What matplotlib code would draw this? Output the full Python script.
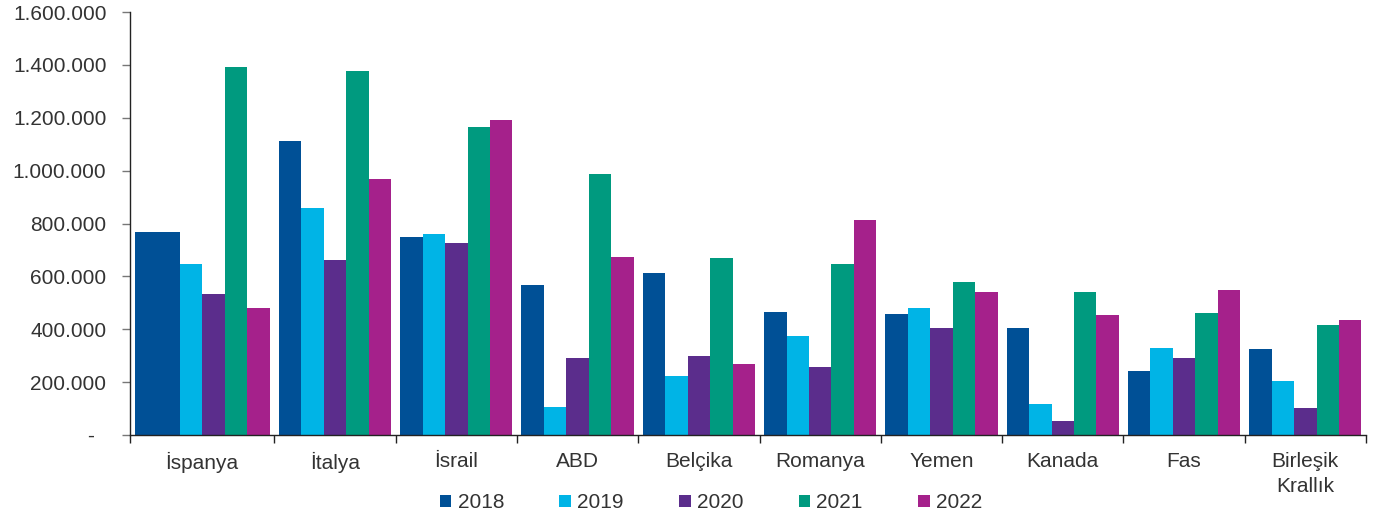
import numpy as np
import matplotlib.pyplot as plt
from matplotlib.patches import Patch

countries = ["İspanya", "İtalya", "İsrail", "ABD", "Belçika", "Romanya",
             "Yemen", "Kanada", "Fas", "Birleşik\nKrallık"]
years = ["2018", "2019", "2020", "2021", "2022"]

v2018 = [768000, 1112000, 749000, 567000, 613000, 465000, 458000, 405000, 242000, 325000]
v2019 = [647000, 859000, 760000, 106000, 223000, 374000, 480000, 117000, 329000, 204000]
v2020 = [533000, 662000, 726000, 291000, 299000, 257000, 405000, 53000, 291000, 102000]
v2021 = [1392000, 1377000, 1165000, 987000, 669000, 647000, 579000, 541000, 461000, 416000]
v2022 = [480000, 968000, 1191000, 673000, 269000, 813000, 541000, 454000, 548000, 435000]
series = [v2018, v2019, v2020, v2021, v2022]

colors = ["#005096", "#00b4e6", "#5b2d8c", "#009a7f", "#a5218b"]

plt.rcParams["font.family"] = ["Liberation Sans", "DejaVu Sans"]
text_color = "#333333"

fig = plt.figure(figsize=(13.79, 5.13), dpi=100)
ax = fig.add_axes([130 / 1379, 78 / 513, 1236 / 1379, 423 / 513])

x = np.arange(len(countries))
w = 0.185
x_lo, x_hi = -0.69, 9.5
for k, (vals, col) in enumerate(zip(series, colors)):
    left = x + (k - 2.5) * w
    widths = np.full(len(x), w)
    if k == 0:
        # first bar in the original is drawn wider to the left
        left[0] -= w + 0.005
        widths[0] += w + 0.005
    ax.bar(left, vals, width=widths, align="edge", color=col, linewidth=0)

ax.set_xlim(x_lo, x_hi)
ax.set_ylim(0, 1600000)

yt = np.arange(0, 1600001, 200000)
ax.set_yticks(yt)
ax.set_yticklabels(["-  "] + [f"{int(v):,}".replace(",", ".") for v in yt[1:]])

# first category spans from the axis start to the first divider
label_pos = x.astype(float)
label_pos[0] = (x_lo + 0.5) / 2
ax.set_xticks(label_pos)
ax.set_xticklabels(countries)
for lbl in ax.get_xticklabels():
    lbl.set_linespacing(1.4)
ax.set_xticks(list(x[:-1] + 0.5) + [x_lo, x_hi], minor=True)
ax.tick_params(axis="x", which="major", length=0, pad=12, labelsize=15,
               labelcolor=text_color)
ax.tick_params(axis="x", which="minor", length=6, width=1, color="#222222")
ax.tick_params(axis="y", length=6, width=1, color="#777777", pad=11,
               labelsize=15, labelcolor=text_color)

for s in ["top", "right"]:
    ax.spines[s].set_visible(False)
for s in ["left", "bottom"]:
    ax.spines[s].set_color("#222222")
    ax.spines[s].set_linewidth(1)

handles = [Patch(facecolor=c, label=y) for c, y in zip(colors, years)]
fig.legend(handles=handles, loc="center", bbox_to_anchor=(711 / 1379, 1 - 503 / 513),
           ncol=5, frameon=False, fontsize=15, handlelength=0.55, handleheight=0.55,
           handletextpad=0.3, columnspacing=2.66, labelcolor=text_color)

fig.savefig("out.png", dpi=100)
